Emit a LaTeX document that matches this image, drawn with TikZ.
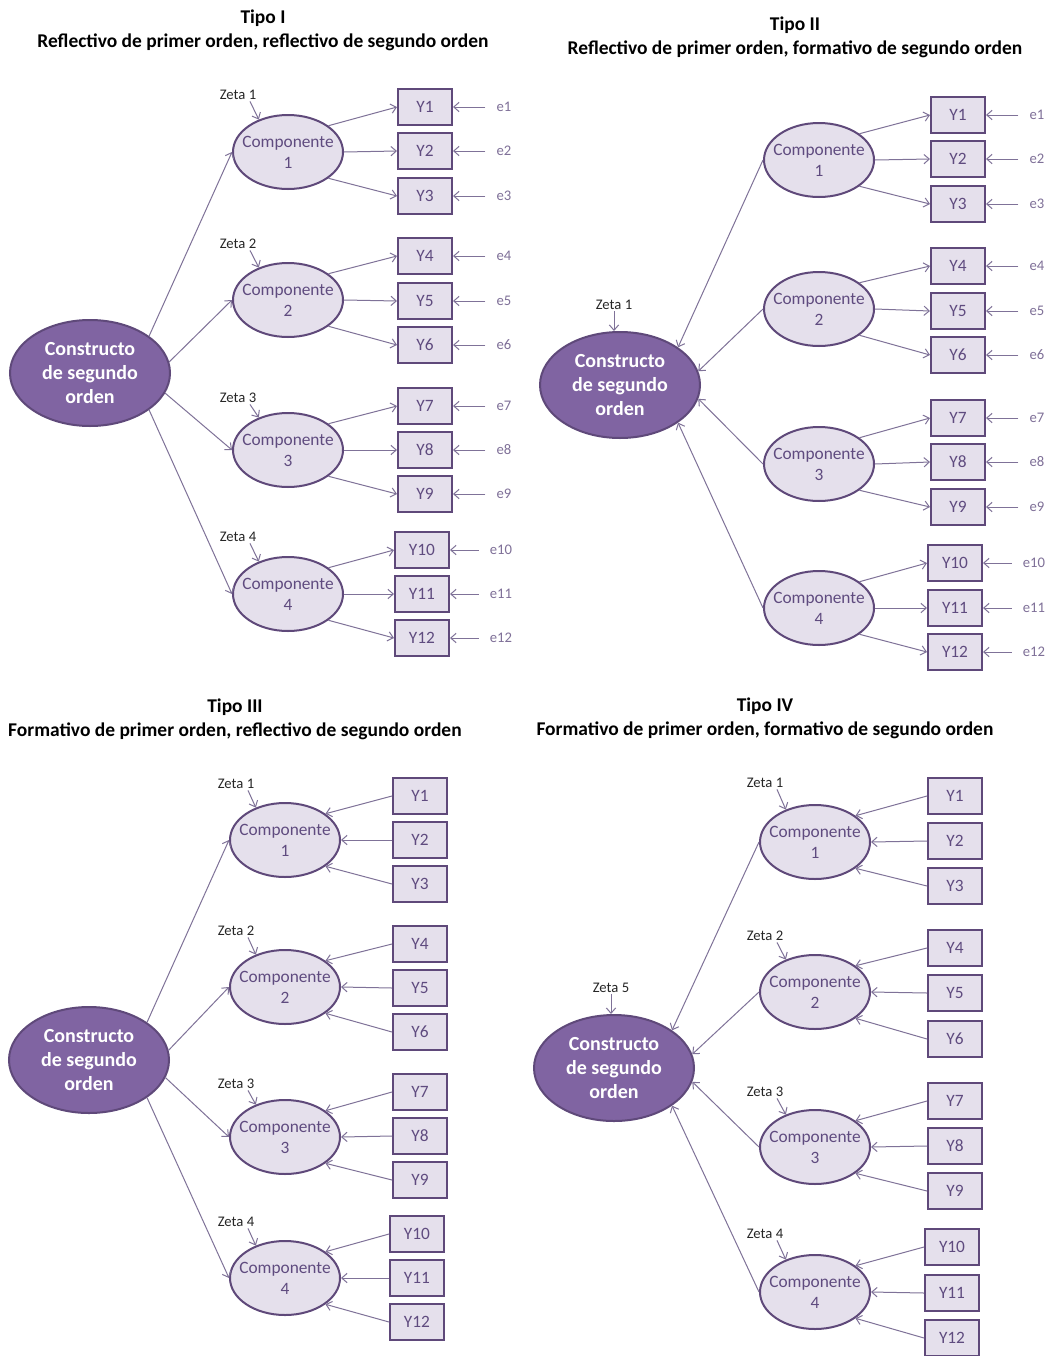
\documentclass[tikz,border=0pt]{standalone}
\usepackage{fontspec}
\setmainfont{Carlito}
\usetikzlibrary{shapes.geometric,arrows.meta}
\definecolor{bigfill}{HTML}{8064A2}
\definecolor{bigline}{HTML}{5F497A}
\definecolor{compfill}{HTML}{E5E0EC}
\definecolor{compline}{HTML}{5F497A}
\definecolor{comptext}{HTML}{5F4B7F}
\definecolor{etext}{HTML}{7F7098}
\definecolor{ztext}{HTML}{262626}
\definecolor{conn}{HTML}{7F7298}
\begin{document}
\begin{tikzpicture}[x=0.75pt,y=-0.75pt,
  big/.style={ellipse,draw=bigline,line width=1.5pt,fill=bigfill,minimum width=120pt,
    minimum height=79.5pt,inner xsep=-8pt,inner ysep=-4pt,align=center,text=white,
    font=\fontsize{15}{18}\selectfont\bfseries},
  comp/.style={ellipse,draw=compline,line width=1.5pt,fill=compfill,minimum width=82.5pt,
    minimum height=55.5pt,inner xsep=-6pt,inner ysep=0pt,align=center,text=comptext,
    font=\fontsize{13}{15.75}\selectfont},
  ind/.style={rectangle,draw=compline,line width=1.5pt,fill=compfill,minimum width=40.5pt,
    minimum height=27pt,inner sep=0pt,text=comptext,font=\fontsize{13}{15}\selectfont},
  elab/.style={inner sep=0pt,text=etext,font=\fontsize{11}{13}\selectfont},
  zlab/.style={inner sep=1pt,text=ztext,font=\fontsize{11}{13}\selectfont},
  ttl/.style={align=center,font=\fontsize{14.6}{18}\selectfont\bfseries},
  arr/.style={draw=conn,line width=0.75pt,-{Straight Barb[length=4pt,width=7pt]}},
]
\useasboundingbox[fill=white] (0,0) rectangle (1050,1356);

% ---------- Tipo I ----------
\node[ttl] (A-t) at (263,30) {Tipo I\\Reflectivo de primer orden, reflectivo de segundo orden};
\node[big] (A-big) at (90,373) {Constructo\\de segundo\\orden};
\foreach \i/\cy/\zy in {1/152/95,2/300/244,3/450/398,4/594/537}{
  \node[comp] (A-c\i) at (288,\cy) {Componente\\\i};
  \node[zlab] (A-z\i) at (238,\zy) {Zeta \i};
  \draw[arr] ([xshift=9pt]A-z\i.south) -- (A-c\i.132);
}
\foreach \j/\xx/\yy/\c/\a in {1/425/107/1/33,2/425/151/1/0,3/425/196/1/-33,
  4/425/256/2/33,5/425/301/2/0,6/425/345/2/-33,7/425/406/3/33,8/425/450/3/0,
  9/425/494/3/-33,10/422/550/4/33,11/422/594/4/0,12/422/638/4/-33}{
  \node[ind] (A-y\j) at (\xx,\yy) {Y\j};
  \node[elab] (A-e\j) at (\xx+79,\yy) {e\j};
  \draw[arr] (A-c\c.\a) -- (A-y\j.west);
  \draw[arr] ([xshift=-8.25pt]A-e\j.west) -- (A-y\j.east);
}
\foreach \i/\a in {1/32,2/8,3/-15,4/-32}
  \draw[arr] (A-big.\a) -- (A-c\i.west);

% ---------- Tipo II ----------
\node[ttl] (B-t) at (795,37) {Tipo II\\Reflectivo de primer orden, formativo de segundo orden};
\node[big] (B-big) at (620,385) {Constructo\\de segundo\\orden};
\node[zlab] (B-z) at (614,305) {Zeta 1};
\draw[arr] (B-z.south) -- (B-z.south |- B-big.north);
\foreach \i/\cy in {1/160,2/309,3/464,4/608}
  \node[comp] (B-c\i) at (819,\cy) {Componente\\\i};
\foreach \j/\xx/\yy/\c/\a in {1/958/115/1/33,2/958/159/1/0,3/958/204/1/-33,
  4/958/266/2/33,5/958/311/2/0,6/958/355/2/-33,7/958/418/3/33,8/958/462/3/0,
  9/958/507/3/-33,10/955/563/4/33,11/955/608/4/0,12/955/652/4/-33}{
  \node[ind] (B-y\j) at (\xx,\yy) {Y\j};
  \node[elab] (B-e\j) at (\xx+79,\yy) {e\j};
  \draw[arr] (B-c\c.\a) -- (B-y\j.west);
  \draw[arr] ([xshift=-8.25pt]B-e\j.west) -- (B-y\j.east);
}
\foreach \i/\a in {1/33,2/10,3/-10,4/-33}
  \draw[arr] (B-c\i.west) -- (B-big.\a);

% ---------- Tipo III ----------
\node[ttl] (C-t) at (235,719.5) {Tipo III\\Formativo de primer orden, reflectivo de segundo orden};
\node[big] (C-big) at (89,1060) {Constructo\\de segundo\\orden};
\foreach \i/\cy/\zy in {1/840/784,2/987/931,3/1137/1084,4/1278/1222}{
  \node[comp] (C-c\i) at (285,\cy) {Componente\\\i};
  \node[zlab] (C-z\i) at (236,\zy) {Zeta \i};
  \draw[arr] ([xshift=9pt]C-z\i.south) -- (C-c\i.132);
}
\foreach \j/\xx/\yy/\c/\a in {1/420/796/1/33,2/420/840/1/0,3/420/884/1/-33,
  4/420/944/2/33,5/420/988/2/0,6/420/1032/2/-33,7/420/1092/3/33,8/420/1136/3/0,
  9/420/1180/3/-33,10/417/1234/4/33,11/417/1278/4/0,12/417/1322/4/-33}{
  \node[ind] (C-y\j) at (\xx,\yy) {Y\j};
  \draw[arr] (C-y\j.west) -- (C-c\c.\a);
}
\foreach \i/\a in {1/33,2/7,3/-13,4/-33}
  \draw[arr] (C-big.\a) -- (C-c\i.west);

% ---------- Tipo IV ----------
\node[ttl] (D-t) at (765,718) {Tipo IV\\Formativo de primer orden, formativo de segundo orden};
\node[big] (D-big) at (614,1068) {Constructo\\de segundo\\orden};
\node[zlab] (D-z) at (611,988) {Zeta 5};
\draw[arr] (D-z.south) -- (D-z.south |- D-big.north);
\foreach \i/\cy/\zy in {1/842/783,2/992/936,3/1147/1092,4/1292/1234}{
  \node[comp] (D-c\i) at (815,\cy) {Componente\\\i};
  \node[zlab] (D-z\i) at (765,\zy) {Zeta \i};
  \draw[arr] ([xshift=9pt]D-z\i.south) -- (D-c\i.132);
}
\foreach \j/\xx/\yy/\c/\a in {1/955/796/1/33,2/955/841/1/0,3/955/886/1/-33,
  4/955/948/2/33,5/955/993/2/0,6/955/1039/2/-33,7/955/1101/3/33,8/955/1146/3/0,
  9/955/1191/3/-33,10/952/1247/4/33,11/952/1293/4/0,12/952/1338/4/-33}{
  \node[ind] (D-y\j) at (\xx,\yy) {Y\j};
  \draw[arr] (D-y\j.west) -- (D-c\c.\a);
}
\foreach \i/\a in {1/33,2/10,3/-10,4/-33}
  \draw[arr] (D-c\i.west) -- (D-big.\a);
\end{tikzpicture}
\end{document}
